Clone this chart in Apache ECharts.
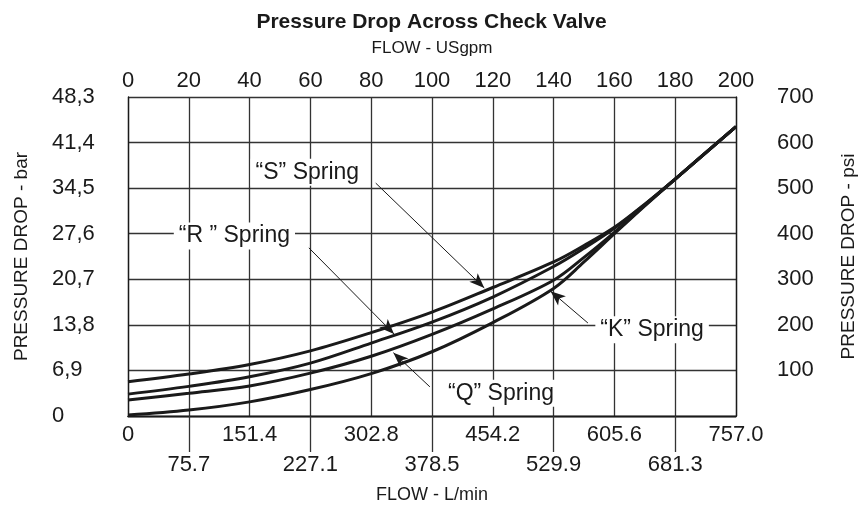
<!DOCTYPE html>
<html>
<head>
<meta charset="utf-8">
<script src="https://cdn.jsdelivr.net/npm/echarts@6/dist/echarts.min.js"></script>
<style>
  html, body { margin: 0; padding: 0; background: #fff; }
  #chart { width: 863px; height: 506px; }
</style>
</head>
<body>
<div id="chart"></div>
<script>
// flow in US gpm, pressure drop in psi
var flowGpm = [0, 20, 40, 60, 80, 100, 120, 140, 150, 160, 170, 180, 200];
var springS = [75, 92, 113, 143, 183, 228, 282, 338, 374, 414, 465, 520, 635];
var springR = [48, 65, 86, 116, 160, 206, 261, 328, 368, 412, 464, 520, 635];
var springQ = [35, 50, 66, 94, 131, 179, 235, 298, 348, 403, 462, 520, 635];
var springK = [2, 13, 31, 58, 93, 141, 205, 280, 338, 400, 461, 520, 635];

var lpmLabels = ['0', '75.7', '151.4', '227.1', '302.8', '378.5', '454.2', '529.9', '605.6', '681.3', '757.0'];
var barLabels = ['0', '6,9', '13,8', '20,7', '27,6', '34,5', '41,4', '48,3'];

// callouts: text spot, leader start, arrow tip (gpm, psi)
var callouts = [
    {name: '“S” Spring', text: [59, 535], from: [81.5, 511], to: [117.2, 281]},
    {name: '“R ” Spring', text: [35, 395], from: [59.5, 369], to: [87.5, 180]},
    {name: '“Q” Spring', text: [122.7, 50], from: [99.3, 64], to: [87.3, 139]},
    {name: '“K” Spring', text: [172.4, 189], from: [151.3, 204], to: [139, 274]}
];

var font = 'Liberation Sans, Arial, Helvetica, sans-serif';
var ink = '#1a1a1a';

function pts(ys) {
    return flowGpm.map(function (x, i) { return [x, ys[i]]; });
}

function curve(name, ys, c) {
    return {
        name: name,
        type: 'line',
        smooth: 0.35,
        symbol: 'none',
        xAxisIndex: 0,
        yAxisIndex: 0,
        z: 3,
        lineStyle: {color: ink, width: 3},
        data: pts(ys),
        markLine: {
            silent: true,
            symbol: ['none', 'arrow'],
            symbolSize: [9, 15],
            label: {show: false},
            lineStyle: {color: ink, width: 1, type: 'solid'},
            data: [[{coord: c.from}, {coord: c.to}]]
        },
        markPoint: {
            silent: true,
            symbol: 'circle',
            symbolSize: 0,
            data: [{coord: c.text}],
            label: {
                show: true,
                position: 'inside',
                formatter: c.name,
                color: ink,
                fontFamily: font,
                fontSize: 23,
                backgroundColor: '#fff',
                padding: [2, 5]
            }
        }
    };
}

var nameStyle = {fontFamily: font, fontSize: 19, color: ink, align: 'center', verticalAlign: 'middle'};

var chart = echarts.init(document.getElementById('chart'));
var option = {
    animation: false,
    backgroundColor: '#fff',
    title: {
        text: 'Pressure Drop Across Check Valve',
        left: 'center',
        top: 7,
        textStyle: {fontFamily: font, fontSize: 21, fontWeight: 'bold', color: ink}
    },
    grid: {left: 128, right: 127, top: 97, bottom: 90, outerBoundsMode: 'none', containLabel: false},
    xAxis: [
        {
            type: 'value',
            position: 'top',
            min: 0, max: 200, interval: 20,
            name: 'FLOW - USgpm',
            nameLocation: 'middle',
            nameGap: 49,
            nameTextStyle: {fontFamily: font, fontSize: 17, color: ink, align: 'center', verticalAlign: 'middle'},
            axisLine: {show: true, lineStyle: {color: ink, width: 1.3}},
            axisTick: {show: false},
            axisLabel: {margin: 5, fontFamily: font, fontSize: 22, color: ink},
            splitLine: {show: true, lineStyle: {color: '#333', width: 1.3}}
        },
        {
            type: 'category',
            position: 'bottom',
            boundaryGap: false,
            data: lpmLabels,
            axisLine: {show: true, lineStyle: {color: ink, width: 1.3}},
            axisTick: {show: false},
            axisLabel: {
                interval: function (i) { return i % 2 === 0; },
                margin: 8, fontFamily: font, fontSize: 22, color: ink
            },
            splitLine: {show: false}
        },
        {
            type: 'category',
            position: 'bottom',
            boundaryGap: false,
            data: lpmLabels,
            name: 'FLOW - L/min',
            nameLocation: 'middle',
            nameGap: 79,
            nameTextStyle: {fontFamily: font, fontSize: 18, color: ink, align: 'center', verticalAlign: 'middle'},
            axisLine: {show: false},
            axisTick: {
                show: true,
                interval: function (i) { return i % 2 === 1; },
                length: 36,
                lineStyle: {color: '#333', width: 1.3}
            },
            axisLabel: {
                interval: function (i) { return i % 2 === 1; },
                margin: 38, fontFamily: font, fontSize: 22, color: ink
            },
            splitLine: {show: false}
        }
    ],
    yAxis: [
        {
            type: 'value',
            position: 'left',
            min: 0, max: 700, interval: 100,
            name: 'PRESSURE DROP - bar',
            nameLocation: 'middle',
            nameRotate: 90,
            nameGap: 106,
            nameTextStyle: nameStyle,
            axisLine: {show: true, lineStyle: {color: ink, width: 1.3}},
            axisTick: {show: false},
            axisLabel: {
                align: 'left',
                margin: 76,
                fontFamily: font, fontSize: 22, color: ink,
                formatter: function (v) { return barLabels[Math.round(v / 100)]; }
            },
            splitLine: {show: true, lineStyle: {color: '#333', width: 1.3}}
        },
        {
            type: 'value',
            position: 'right',
            min: 0, max: 700, interval: 100,
            name: 'PRESSURE DROP - psi',
            nameLocation: 'middle',
            nameRotate: 90,
            nameGap: 113,
            nameTextStyle: nameStyle,
            axisLine: {show: true, lineStyle: {color: ink, width: 1.3}},
            axisTick: {show: false},
            axisLabel: {
                margin: 41,
                fontFamily: font, fontSize: 22, color: ink,
                formatter: function (v) { return v === 0 ? '' : String(v); }
            },
            splitLine: {show: false}
        }
    ],
    series: [
        curve('S', springS, callouts[0]),
        curve('R', springR, callouts[1]),
        curve('Q', springQ, callouts[2]),
        curve('K', springK, callouts[3])
    ]
};
chart.setOption(option);
</script>
</body>
</html>
